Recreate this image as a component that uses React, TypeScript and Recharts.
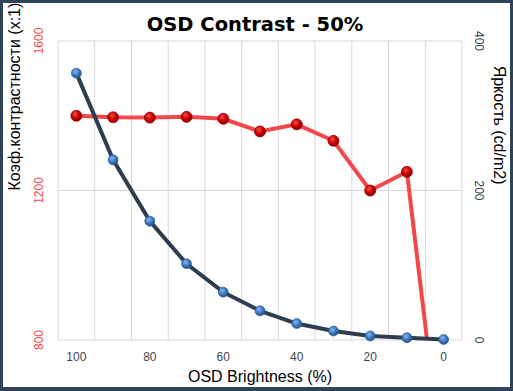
import { ComposedChart, Line, XAxis, YAxis, CartesianGrid } from "recharts";

// OSD brightness settings (%)
const brightnessSteps = [100, 90, 80, 70, 60, 50, 40, 30, 20, 10, 0];
// contrast ratio (x:1) — last value falls below the axis and gets clipped
const contrastValues = [1400, 1396, 1395, 1397, 1392, 1358, 1377, 1333, 1200, 1250, 430];
// luminance (cd/m2)
const luminanceValues = [357, 241, 159, 102, 64, 39, 22, 12, 5.4, 3.1, 0.7];

const xTicks = [100, 80, 60, 40, 20, 0];
const gridTicks = [105, 95, 85, 75, 65, 55, 45, 35, 25, 15, 5, -5];
const contrastTicks = [800, 1200, 1600];
const luminanceTicks = [0, 200, 400];

const data = brightnessSteps.map((b, i) => ({
  brightness: b,
  contrast: contrastValues[i],
  luminance: luminanceValues[i],
}));

const FONT = "'Liberation Sans', Arial, sans-serif";
const RED = "#f4474c";
const NAVY = "#2c3e50";

const LeftTick = (props: any) => {
  const { x, y, payload } = props;
  return (
    <text x={x - 11} y={y} transform={`rotate(-90 ${x - 11} ${y})`} textAnchor="middle"
      dominantBaseline="central" fill={RED} fontSize={12} fontFamily={FONT}>
      {payload.value}
    </text>
  );
};

const RightTick = (props: any) => {
  const { x, y, payload } = props;
  return (
    <text x={x + 9} y={y} transform={`rotate(90 ${x + 9} ${y})`} textAnchor="middle"
      dominantBaseline="central" fill={NAVY} fontSize={12} fontFamily={FONT}>
      {payload.value}
    </text>
  );
};

const RedDot = (props: any) => {
  const { cx, cy } = props;
  if (cx == null || cy == null) return null;
  return <circle cx={cx} cy={cy} r={5.5} fill="url(#redBall)" stroke="#9a0000" strokeWidth={0.8} />;
};

const BlueDot = (props: any) => {
  const { cx, cy } = props;
  if (cx == null || cy == null) return null;
  return <circle cx={cx} cy={cy} r={5} fill="url(#blueBall)" stroke="#2a5a96" strokeWidth={0.6} />;
};

export default function App() {
  return (
    <div style={{ position: "absolute", left: 0, top: 0, width: 513, height: 391, background: "#fff" }}>
      <ComposedChart width={513} height={391} data={data} margin={{ top: 41, right: 0, bottom: 0, left: 0 }}>
        <defs>
          <radialGradient id="redBall" cx="40%" cy="35%" r="65%">
            <stop offset="0%" stopColor="#f05050" />
            <stop offset="55%" stopColor="#cc0000" />
            <stop offset="100%" stopColor="#8a0000" />
          </radialGradient>
          <radialGradient id="blueBall" cx="40%" cy="35%" r="65%">
            <stop offset="0%" stopColor="#8ab8ee" />
            <stop offset="55%" stopColor="#3c78c2" />
            <stop offset="100%" stopColor="#24558f" />
          </radialGradient>
        </defs>
        <text x={255} y={24} textAnchor="middle" dominantBaseline="central" fontSize={19.5}
          fontWeight="bold" fontFamily="'DejaVu Sans', Verdana, sans-serif" fill="#000">
          OSD Contrast - 50%
        </text>
        <CartesianGrid stroke="#d9d9d9" xAxisId="grid" yAxisId="left" />
        <XAxis xAxisId="main" dataKey="brightness" type="number" domain={[-5, 105]} reversed
          ticks={xTicks} height={51} axisLine={false} tickLine={false}
          tick={{ fill: "#3d4654", fontSize: 12, fontFamily: FONT }} tickMargin={6}
          label={{ value: "OSD Brightness (%)", position: "insideBottom", offset: 9, fill: "#000", fontSize: 16, fontFamily: FONT }} />
        <XAxis xAxisId="grid" dataKey="brightness" type="number" domain={[-5, 105]} reversed
          ticks={gridTicks} height={0} hide />
        <YAxis yAxisId="left" orientation="left" domain={[800, 1600]} ticks={contrastTicks} allowDataOverflow
          width={58} axisLine={false} tickLine={false} tick={<LeftTick />}
          label={{ value: "Коэф.контрастности (x:1)", angle: -90, position: "insideLeft", offset: 0, dx: 14, fill: "#000", fontSize: 16, fontFamily: FONT }} />
        <YAxis yAxisId="right" orientation="right" domain={[0, 400]} ticks={luminanceTicks}
          width={51} axisLine={false} tickLine={false} tick={<RightTick />}
          label={{ value: "Яркость (cd/m2)", angle: 90, position: "insideRight", offset: 0, dx: -13, dy: -6, fill: "#000", fontSize: 16, fontFamily: FONT }} />
        <Line xAxisId="main" yAxisId="left" dataKey="contrast" stroke={RED} strokeWidth={4}
          dot={<RedDot />} activeDot={false} isAnimationActive={false} />
        <Line xAxisId="main" yAxisId="right" dataKey="luminance" stroke={NAVY} strokeWidth={4}
          dot={<BlueDot />} activeDot={false} isAnimationActive={false} />
      </ComposedChart>
      <div style={{ position: "absolute", left: 0, top: 0, width: 513, height: 391, boxSizing: "border-box",
        border: "3px solid #2e4358", borderBottomWidth: 4, pointerEvents: "none" }} />
    </div>
  );
}
